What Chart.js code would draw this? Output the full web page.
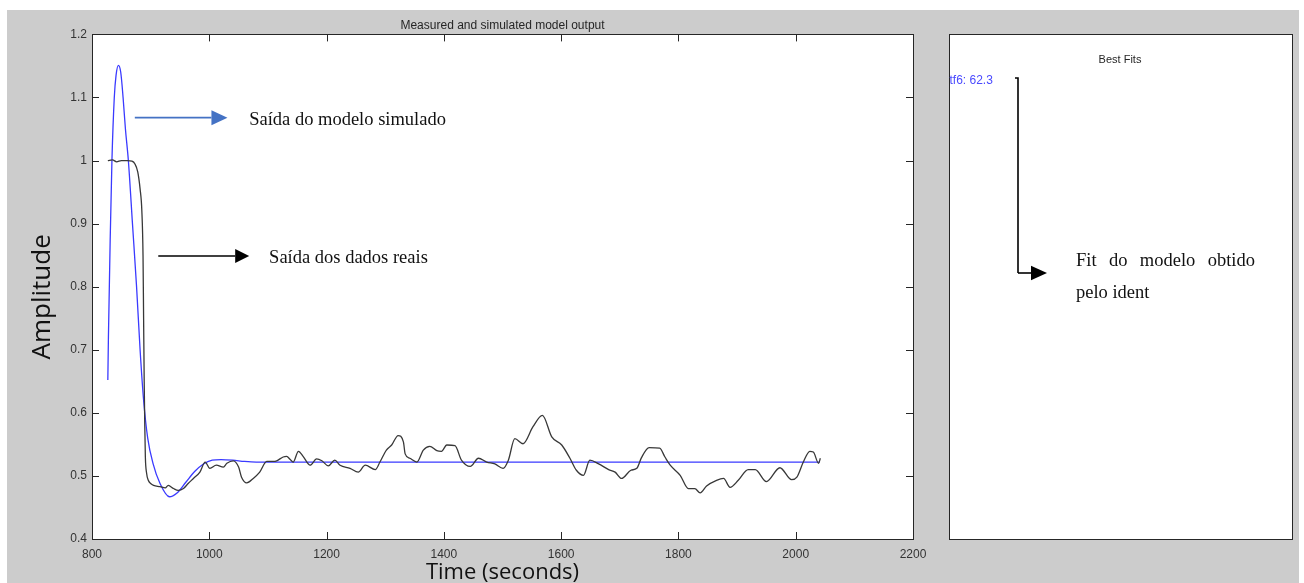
<!DOCTYPE html>
<html>
<head>
<meta charset="utf-8">
<script src="https://cdn.jsdelivr.net/npm/chart.js@4.4.1/dist/chart.umd.min.js"></script>
<style>
  html, body { margin: 0; padding: 0; background: #fff; }
  #wrap { position: relative; width: 1304px; height: 583px; overflow: hidden; }
  canvas { position: absolute; left: 0; top: 0; }
</style>
</head>
<body>
<div id="wrap"><canvas id="chart" width="1304" height="583"></canvas></div>
<script>
// measured output (black)
const measuredTime = [827, 835, 842, 850, 860, 868, 873, 878, 882, 885, 887, 888, 889, 890, 891, 893, 896, 900, 905, 916,
  925, 930, 939, 947, 956, 964, 973, 984, 993, 1001, 1012, 1024, 1030, 1041, 1050, 1055, 1064, 1075, 1086, 1098,
  1109, 1115, 1126, 1132, 1138, 1143, 1152, 1160, 1172, 1183, 1192, 1203, 1214, 1223, 1240, 1254, 1266, 1283, 1291, 1302,
  1311, 1322, 1331, 1334, 1342, 1354, 1365, 1376, 1388, 1396, 1405, 1419, 1430, 1445, 1459, 1473, 1487, 1501, 1510, 1521,
  1535, 1552, 1568, 1584, 1601, 1615, 1626, 1638, 1649, 1664, 1681, 1692, 1703, 1719, 1729, 1737, 1750, 1768, 1777, 1786,
  1803, 1817, 1828, 1837, 1848, 1865, 1877, 1888, 1902, 1919, 1931, 1950, 1973, 1993, 2002, 2013, 2024, 2030, 2039, 2042];
const measuredAmp = [1.000, 1.001, 0.998, 1.000, 1.000, 0.999, 0.995, 0.982, 0.955, 0.920, 0.850, 0.750, 0.650, 0.580, 0.530, 0.505, 0.493, 0.488, 0.485, 0.483,
  0.481, 0.485, 0.480, 0.477, 0.480, 0.488, 0.496, 0.506, 0.522, 0.512, 0.517, 0.514, 0.520, 0.524, 0.514, 0.498, 0.489, 0.496, 0.506, 0.523,
  0.523, 0.524, 0.530, 0.531, 0.526, 0.522, 0.539, 0.531, 0.517, 0.527, 0.524, 0.516, 0.525, 0.517, 0.512, 0.506, 0.517, 0.510, 0.522, 0.541,
  0.549, 0.564, 0.554, 0.535, 0.528, 0.522, 0.541, 0.547, 0.540, 0.539, 0.549, 0.548, 0.525, 0.515, 0.528, 0.522, 0.519, 0.512, 0.525, 0.559,
  0.551, 0.578, 0.596, 0.562, 0.549, 0.528, 0.509, 0.501, 0.525, 0.519, 0.510, 0.506, 0.496, 0.509, 0.512, 0.529, 0.545, 0.544, 0.530, 0.517,
  0.501, 0.480, 0.480, 0.473, 0.484, 0.493, 0.496, 0.482, 0.493, 0.510, 0.510, 0.491, 0.513, 0.494, 0.498, 0.522, 0.539, 0.538, 0.520, 0.528];

// simulated model output (blue)
const simTime = [827, 828, 831, 834, 838, 841, 845, 849, 853, 857, 862, 869, 876, 882, 888, 895, 904, 916, 932, 945,
  960, 975, 990, 1005, 1020, 1040, 1060, 1080, 1100, 2041];
const simAmp = [0.652, 0.720, 0.874, 1.000, 1.100, 1.135, 1.151, 1.140, 1.100, 1.050, 1.000, 0.900, 0.800, 0.700, 0.620, 0.560, 0.520, 0.488, 0.467, 0.473,
  0.490, 0.507, 0.519, 0.525, 0.526, 0.525, 0.523, 0.522, 0.522, 0.522];

const xTickValues = [800, 1000, 1200, 1400, 1600, 1800, 2000, 2200];
const yTickValues = [0.4, 0.5, 0.6, 0.7, 0.8, 0.9, 1.0, 1.1, 1.2];

const bestFits = ["tf6: 62.3"];

const toPoints = (xs, ys) => xs.map((x, i) => ({ x, y: ys[i] }));

function drawArrow(ctx, x1, x2, y, color, head, half) {
  ctx.strokeStyle = color;
  ctx.fillStyle = color;
  ctx.lineWidth = 1.6;
  ctx.beginPath();
  ctx.moveTo(x1, y);
  ctx.lineTo(x2 - head, y);
  ctx.stroke();
  ctx.beginPath();
  ctx.moveTo(x2 - head, y - half);
  ctx.lineTo(x2, y);
  ctx.lineTo(x2 - head, y + half);
  ctx.closePath();
  ctx.fill();
}

const decor = {
  id: "decor",
  beforeDraw(chart) {
    const { ctx, chartArea: a } = chart;
    ctx.save();
    ctx.fillStyle = "#cccccc";
    ctx.fillRect(7, 10, 1292, 573);
    ctx.fillStyle = "#ffffff";
    ctx.fillRect(a.left, a.top, a.right - a.left, a.bottom - a.top);
    // right panel
    ctx.fillRect(949, a.top, 343, a.bottom - a.top);
    ctx.restore();
  },
  afterDraw(chart) {
    const { ctx, chartArea: a, scales } = chart;
    const xs = scales.x, ys = scales.y;
    ctx.save();

    // inward ticks on all sides
    ctx.strokeStyle = "#262626";
    ctx.lineWidth = 1;
    ctx.beginPath();
    xs.ticks.forEach((t) => {
      const px = Math.round(xs.getPixelForValue(t.value)) + 0.5;
      if (px <= a.left + 1 || px >= a.right - 1) return;
      ctx.moveTo(px, a.bottom); ctx.lineTo(px, a.bottom - 7);
      ctx.moveTo(px, a.top); ctx.lineTo(px, a.top + 7);
    });
    ys.ticks.forEach((t) => {
      const py = Math.round(ys.getPixelForValue(t.value)) + 0.5;
      if (py <= a.top + 1 || py >= a.bottom - 1) return;
      ctx.moveTo(a.left, py); ctx.lineTo(a.left + 7, py);
      ctx.moveTo(a.right, py); ctx.lineTo(a.right - 7, py);
    });
    ctx.stroke();
    ctx.strokeRect(Math.round(a.left) + 0.5, Math.round(a.top) + 0.5, Math.round(a.right - a.left), Math.round(a.bottom - a.top));

    // annotations on the plot
    ctx.font = "18.5px 'Liberation Serif'";
    ctx.textBaseline = "alphabetic";
    ctx.textAlign = "left";
    let y = ys.getPixelForValue(1.068);
    drawArrow(ctx, xs.getPixelForValue(873), xs.getPixelForValue(1031), y, "#4472c4", 16, 7.5);
    ctx.fillStyle = "#111";
    ctx.fillText("Saída do modelo simulado", xs.getPixelForValue(1068), y + 7.5);
    y = ys.getPixelForValue(0.8487);
    drawArrow(ctx, xs.getPixelForValue(913), xs.getPixelForValue(1068), y, "#000", 14, 7);
    ctx.fillStyle = "#111";
    ctx.fillText("Saída dos dados reais", xs.getPixelForValue(1102), y + 7);

    // right panel
    ctx.strokeStyle = "#262626";
    ctx.lineWidth = 1;
    ctx.strokeRect(949.5, Math.round(a.top) + 0.5, 343, Math.round(a.bottom - a.top));
    ctx.fillStyle = "#262626";
    ctx.font = "11px 'Liberation Sans'";
    ctx.textAlign = "center";
    ctx.textBaseline = "middle";
    ctx.fillText("Best Fits", 1120, 60);
    ctx.fillStyle = "#4a4aff";
    ctx.font = "12px 'Liberation Sans'";
    ctx.textAlign = "left";
    bestFits.forEach((s, i) => ctx.fillText(s, 949.5, 80.5 + i * 14));

    ctx.strokeStyle = "#000";
    ctx.lineWidth = 1.6;
    ctx.beginPath();
    ctx.moveTo(1015, 78);
    ctx.lineTo(1018, 78);
    ctx.lineTo(1018, 273);
    ctx.stroke();
    drawArrow(ctx, 1018, 1047, 273, "#000", 16, 7.2);

    ctx.fillStyle = "#111";
    ctx.font = "18.5px 'Liberation Serif'";
    ctx.textBaseline = "alphabetic";
    const words = ["Fit", "do", "modelo", "obtido"];
    const widths = words.map((w) => ctx.measureText(w).width);
    const gap = (1255 - 1076 - widths.reduce((s, w) => s + w, 0)) / (words.length - 1);
    let wx = 1076;
    words.forEach((w, i) => { ctx.fillText(w, wx, 266); wx += widths[i] + gap; });
    ctx.fillText("pelo ident", 1076, 297.5);

    ctx.restore();
  },
};

new Chart(document.getElementById("chart"), {
  type: "line",
  data: {
    datasets: [
      {
        label: "Measured",
        data: toPoints(measuredTime, measuredAmp),
        borderColor: "#383838",
        borderWidth: 1.3,
        pointRadius: 0,
        cubicInterpolationMode: "monotone",
        fill: false,
      },
      {
        label: "tf6",
        data: toPoints(simTime, simAmp),
        borderColor: "#3a3aff",
        borderWidth: 1.3,
        pointRadius: 0,
        cubicInterpolationMode: "monotone",
        fill: false,
      },
    ],
  },
  options: {
    responsive: false,
    animation: false,
    devicePixelRatio: 1,
    layout: { padding: { left: 0, top: 16, right: 391, bottom: 0 } },
    scales: {
      x: {
        type: "linear",
        min: 800,
        max: 2200,
        afterBuildTicks: (s) => { s.ticks = xTickValues.map((v) => ({ value: v })); },
        afterFit: (s) => { s.height = 44; },
        grid: { display: false, drawTicks: false },
        border: { display: false },
        ticks: {
          padding: 8,
          color: "#333",
          font: { family: "'Liberation Sans'", size: 12 },
          maxRotation: 0,
          callback: (v) => String(v),
        },
        title: {
          display: true,
          text: "Time (seconds)",
          color: "#111",
          font: { family: "'Open Sans'", size: 22 },
          padding: { top: 0, bottom: -3 },
        },
      },
      y: {
        min: 0.4,
        max: 1.2,
        afterBuildTicks: (s) => { s.ticks = yTickValues.map((v) => ({ value: v })); },
        afterFit: (s) => { s.width = 92; },
        grid: { display: false, drawTicks: false },
        border: { display: false },
        ticks: {
          padding: 5,
          color: "#333",
          font: { family: "'Liberation Sans'", size: 12 },
          callback: (v) => String(+v.toFixed(1)),
        },
        title: {
          display: true,
          text: "Amplitude\u00a0\u00a0\u00a0",
          color: "#111",
          font: { family: "'Open Sans'", size: 26 },
          padding: { top: 27, bottom: 0 },
        },
      },
    },
    plugins: {
      legend: { display: false },
      tooltip: { enabled: false },
      title: {
        display: true,
        text: "Measured and simulated model output",
        fullSize: false,
        color: "#262626",
        font: { family: "'Liberation Sans'", size: 12, weight: "normal" },
        padding: { top: 2, bottom: 2 },
      },
    },
  },
  plugins: [decor],
});
</script>
</body>
</html>
